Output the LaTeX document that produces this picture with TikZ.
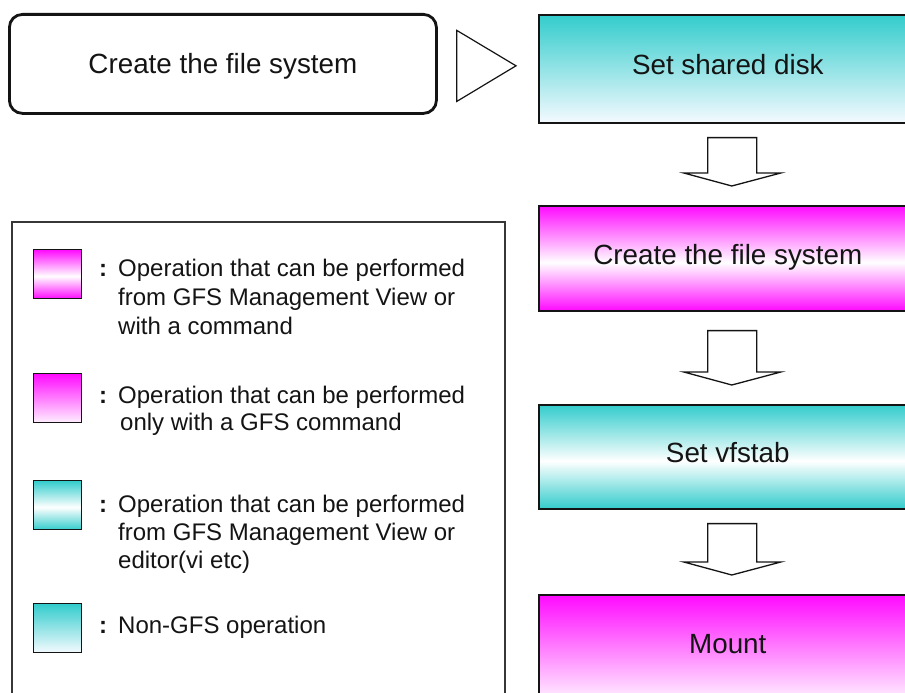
\documentclass[tikz,border=0pt]{standalone}
\usepackage{fontspec}
\setmainfont{Liberation Sans}
\usetikzlibrary{calc}
\definecolor{mag}{RGB}{255,10,255}
\definecolor{cya}{RGB}{51,204,204}
\definecolor{magpale}{RGB}{255,240,255}
\definecolor{cyapale}{RGB}{244,250,255}
\definecolor{ink}{RGB}{20,20,20}
\pgfdeclareverticalshading{magmid}{100bp}{color(0bp)=(mag); color(25bp)=(mag); color(48bp)=(white); color(75bp)=(mag); color(100bp)=(mag)}
\pgfdeclareverticalshading{cyamid}{100bp}{color(0bp)=(cya); color(25bp)=(cya); color(48bp)=(white); color(75bp)=(cya); color(100bp)=(cya)}
\pgfdeclareverticalshading{magtop}{100bp}{color(0bp)=(magpale); color(25bp)=(magpale); color(75bp)=(mag); color(100bp)=(mag)}
\pgfdeclareverticalshading{cyatop}{100bp}{color(0bp)=(cyapale); color(25bp)=(cyapale); color(75bp)=(cya); color(100bp)=(cya)}
\newcommand\downblock[3]{%
  \draw[blockarrow] ($(#1.south)+(-20,#3)$) -- ($(#1.south)+(29,#3)$)
    -- ($(#2.north)+(29,-32)$) -- ($(#2.north)+(53,-32)$)
    -- ($(#2.north)+(4,-19)$) -- ($(#2.north)+(-44,-32)$)
    -- ($(#2.north)+(-20,-32)$) -- cycle;}
\begin{document}
\begin{tikzpicture}[x=1bp,y=-1bp,
  stepbox/.style={draw=ink, line width=1.6bp, minimum width=378bp, inner sep=0pt,
    anchor=north west, text=ink, font=\fontsize{27.8bp}{32bp}\selectfont,
    text height=19.5bp, text depth=8bp},
  swatch/.style={draw=ink, line width=1.4bp, minimum width=48bp, minimum height=49bp,
    inner sep=0pt, anchor=north west},
  legtext/.style={anchor=base west, inner sep=0pt, text=ink,
    font=\fontsize{24bp}{28bp}\selectfont},
  blockarrow/.style={draw=ink, line width=1.3bp, fill=white, line join=miter}]
\useasboundingbox (0,0) rectangle (905,693);
\clip (0,0) rectangle (905,693);
\fill[white] (0,0) rectangle (905,693);

% top-left rounded title box
\node[draw=ink, line width=2.8bp, rounded corners=13bp, minimum width=427bp,
  minimum height=99bp, inner sep=0pt, anchor=north west, text=ink,
  font=\fontsize{27.8bp}{32bp}\selectfont, text height=19.5bp, text depth=0pt]
  (title) at (8,13) {Create the file system};

% flow boxes
\node[stepbox, minimum height=108bp, shading=cyatop] (ssd) at (538,14) {Set shared disk};
\node[stepbox, minimum height=105bp, shading=magmid] (cfs) at (538,205) {Create the file system};
\node[stepbox, minimum height=104bp, shading=cyamid] (vfs) at (538,404) {Set vfstab};
\node[stepbox, minimum height=105bp, shading=magtop] (mnt) at (538,594) {Mount};

% hollow triangle between title and first step
\draw[draw=ink, line width=1.2bp, fill=white, line join=miter]
  ($(title.east)+(19,-33.5)$) -- ($(ssd.west)+(-22,-3)$) -- ($(title.east)+(19,37.5)$) -- cycle;

% block arrows
\downblock{ssd}{cfs}{14}
\downblock{cfs}{vfs}{19}
\downblock{vfs}{mnt}{14}

% legend frame
\node[draw=ink!85, line width=1.5bp, anchor=north west, minimum width=493bp,
  minimum height=520bp, inner sep=0pt] (legend) at (11,221) {};

\node[swatch, shading=magmid] (sw1) at (33,249) {};
\node[swatch, shading=magtop] (sw2) at (33,373) {};
\node[swatch, shading=cyamid] (sw3) at (33,480) {};
\node[swatch, shading=cyatop] (sw4) at (33,603) {};

\node[legtext] (c1) at (99,276) {\textbf{:}};
\node[legtext] (t1a) at (118,276) {Operation that can be performed};
\node[legtext] (t1b) at (118,305) {from GFS Management View or};
\node[legtext] (t1c) at (118,334) {with a command};

\node[legtext] (c2) at (99,403) {\textbf{:}};
\node[legtext] (t2a) at (118,403) {Operation that can be performed};
\node[legtext] (t2b) at (120,430) {only with a GFS command};

\node[legtext] (c3) at (99,512) {\textbf{:}};
\node[legtext] (t3a) at (118,512) {Operation that can be performed};
\node[legtext] (t3b) at (118,540) {from GFS Management View or};
\node[legtext] (t3c) at (118,568) {editor(vi etc)};

\node[legtext] (c4) at (99,633) {\textbf{:}};
\node[legtext] (t4a) at (118,633) {Non-GFS operation};
\end{tikzpicture}
\end{document}
